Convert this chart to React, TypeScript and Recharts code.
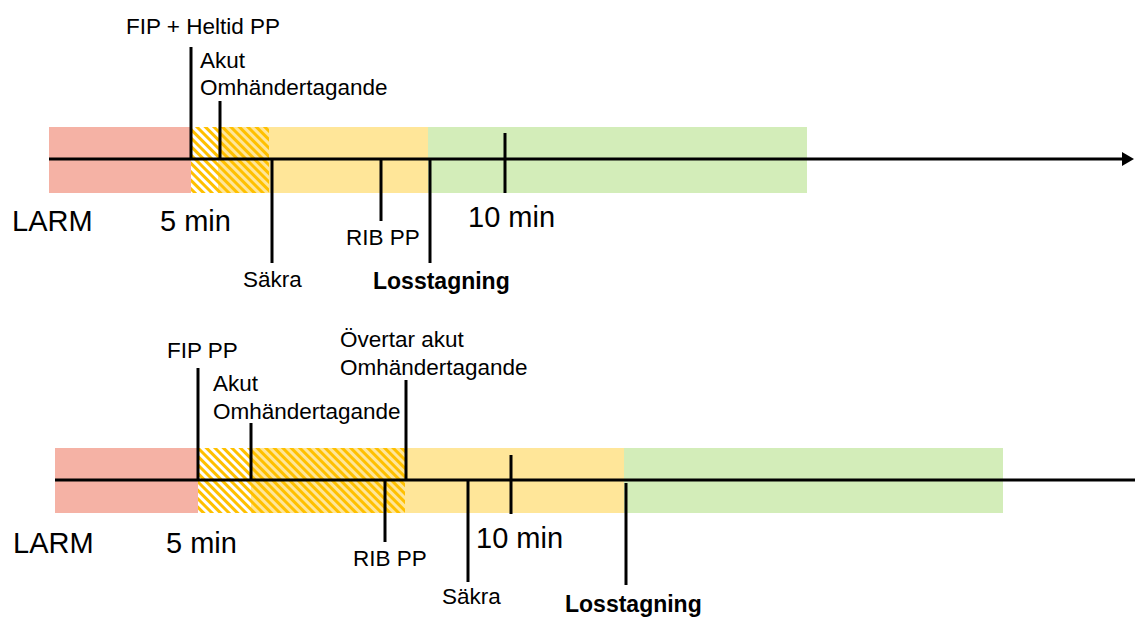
import React from 'react';
import { ComposedChart, XAxis, YAxis, ReferenceArea, ReferenceLine, Scatter } from 'recharts';

// ---------- Top timeline (position along timeline, vertical offset from the axis) ----------
const topBandEdges = [49, 191, 218, 269, 428, 807];
const topBandKinds = ['larm', 'hatchLight', 'hatchDense', 'yellow', 'green'];
const topAxisRange = [49, 1134];
const topEventX = [191, 220, 272, 381, 430, 505];
const topEventFrom = [0, 0, 0, 0, 0, -34];
const topEventTo = [112, 58, -104, -62, -104, 26];
const topLabelText = ['FIP + Heltid PP', 'Akut', 'Omhändertagande', 'LARM', '5 min', 'Säkra', 'RIB PP', 'Losstagning', '10 min'];
const topLabelKind = ['small', 'small', 'small', 'big', 'big', 'small', 'small', 'bold', 'big'];
const topLabelX = [126, 200, 200, 12, 160, 243, 346, 373, 468];
const topLabelY = [125, 91, 64, -72, -72, -128, -86, -130, -68];

// ---------- Bottom timeline ----------
const botBandEdges = [55, 198, 251, 405, 624, 1003];
const botBandKinds = ['larm', 'hatchLight', 'hatchDense', 'yellow', 'green'];
const botAxisRange = [55, 1135];
const botEventX = [198, 251, 406, 385, 468, 511, 626];
const botEventFrom = [0, 0, 0, 0, 0, -34, -3];
const botEventTo = [112, 57, 100, -62, -102, 25, -105];
const botLabelText = ['FIP PP', 'Akut', 'Omhändertagande', 'Övertar akut', 'Omhändertagande', 'LARM', '5 min', 'RIB PP', 'Säkra', 'Losstagning', '10 min'];
const botLabelKind = ['small', 'small', 'small', 'small', 'small', 'big', 'big', 'small', 'small', 'bold', 'big'];
const botLabelX = [167, 213, 213, 340, 340, 13, 166, 353, 442, 565, 476];
const botLabelY = [122, 89, 61, 133, 105, -73, -73, -86, -124, -132, -68];

const FONT = '"Liberation Sans", Arial, sans-serif';

const KIND_FILL: Record<string, string> = {
  larm: '#F5B2A5',
  hatchLight: 'url(#hatchLight)',
  hatchDense: 'url(#hatchDense)',
  yellow: '#FFE699',
  green: '#D3EDB9',
};

const TEXT_STYLE: Record<string, { size: number; weight: string }> = {
  small: { size: 22.5, weight: 'normal' },
  big: { size: 29, weight: 'normal' },
  bold: { size: 23, weight: 'bold' },
};

const TextShape = (props: any) => {
  const { cx, cy, payload } = props;
  const st = TEXT_STYLE[payload.kind];
  return (
    <text x={cx} y={cy} fill="#000" fontFamily={FONT} fontSize={st.size} fontWeight={st.weight} textAnchor="start">
      {payload.text}
    </text>
  );
};

const ArrowShape = (props: any) => {
  const { cx, cy } = props;
  return <polygon points={`${cx},${cy} ${cx - 12},${cy - 7} ${cx - 12},${cy + 7}`} fill="#000" />;
};

type TLProps = {
  top: number;
  height: number;
  yDomain: [number, number];
  bandEdges: number[];
  bandKinds: string[];
  bandUp: number;
  bandDown: number;
  axisRange: number[];
  arrow: boolean;
  eventX: number[];
  eventFrom: number[];
  eventTo: number[];
  labelText: string[];
  labelKind: string[];
  labelX: number[];
  labelY: number[];
};

const Timeline = (p: TLProps) => {
  const labels = p.labelText.map((t, i) => ({ x: p.labelX[i], y: p.labelY[i], text: t, kind: p.labelKind[i] }));
  const arrowData = [{ x: p.axisRange[1], y: 0 }];
  return (
    <div style={{ position: 'absolute', left: 0, top: p.top }}>
      <ComposedChart width={1135} height={p.height} margin={{ top: 0, right: 0, bottom: 0, left: 0 }}>
        <XAxis type="number" dataKey="x" domain={[0, 1135]} hide allowDataOverflow />
        <YAxis type="number" dataKey="y" domain={p.yDomain} hide allowDataOverflow />
        {p.bandKinds.map((k, i) => (
          <ReferenceArea
            key={'b' + i}
            x1={p.bandEdges[i]}
            x2={p.bandEdges[i + 1]}
            y1={-p.bandDown}
            y2={p.bandUp}
            fill={KIND_FILL[k]}
            fillOpacity={1}
            stroke="none"
            ifOverflow="visible"
          />
        ))}
        <ReferenceLine
          segment={[{ x: p.axisRange[0], y: 0 }, { x: p.axisRange[1] - (p.arrow ? 8 : 0), y: 0 }]}
          stroke="#000"
          strokeWidth={3}
          ifOverflow="visible"
        />
        {p.eventX.map((x, i) => (
          <ReferenceLine
            key={'e' + i}
            segment={[{ x, y: p.eventFrom[i] }, { x, y: p.eventTo[i] }]}
            stroke="#000"
            strokeWidth={3}
            ifOverflow="visible"
          />
        ))}
        {p.arrow && <Scatter data={arrowData} dataKey="y" shape={ArrowShape} isAnimationActive={false} />}
        <Scatter data={labels} dataKey="y" shape={TextShape} isAnimationActive={false} />
      </ComposedChart>
    </div>
  );
};

export default function App() {
  return (
    <div style={{ position: 'absolute', left: 0, top: 0, width: 1135, height: 617, background: '#fff', overflow: 'hidden' }}>
      <svg width={0} height={0} style={{ position: 'absolute' }}>
        <defs>
          <pattern id="hatchLight" patternUnits="userSpaceOnUse" width={6} height={6} patternTransform="rotate(-45)">
            <rect width={6} height={6} fill="#FFFFFF" />
            <rect width={3} height={6} fill="#FFC000" />
          </pattern>
          <pattern id="hatchDense" patternUnits="userSpaceOnUse" width={6} height={6} patternTransform="rotate(-45)">
            <rect width={6} height={6} fill="#FFE699" />
            <rect width={3} height={6} fill="#FFC000" />
          </pattern>
        </defs>
      </svg>
      <Timeline
        top={0}
        height={320}
        yDomain={[-161, 159]}
        bandEdges={topBandEdges}
        bandKinds={topBandKinds}
        bandUp={32}
        bandDown={34}
        axisRange={topAxisRange}
        arrow={true}
        eventX={topEventX}
        eventFrom={topEventFrom}
        eventTo={topEventTo}
        labelText={topLabelText}
        labelKind={topLabelKind}
        labelX={topLabelX}
        labelY={topLabelY}
      />
      <Timeline
        top={320}
        height={297}
        yDomain={[-137, 160]}
        bandEdges={botBandEdges}
        bandKinds={botBandKinds}
        bandUp={32}
        bandDown={33}
        axisRange={botAxisRange}
        arrow={false}
        eventX={botEventX}
        eventFrom={botEventFrom}
        eventTo={botEventTo}
        labelText={botLabelText}
        labelKind={botLabelKind}
        labelX={botLabelX}
        labelY={botLabelY}
      />
    </div>
  );
}
